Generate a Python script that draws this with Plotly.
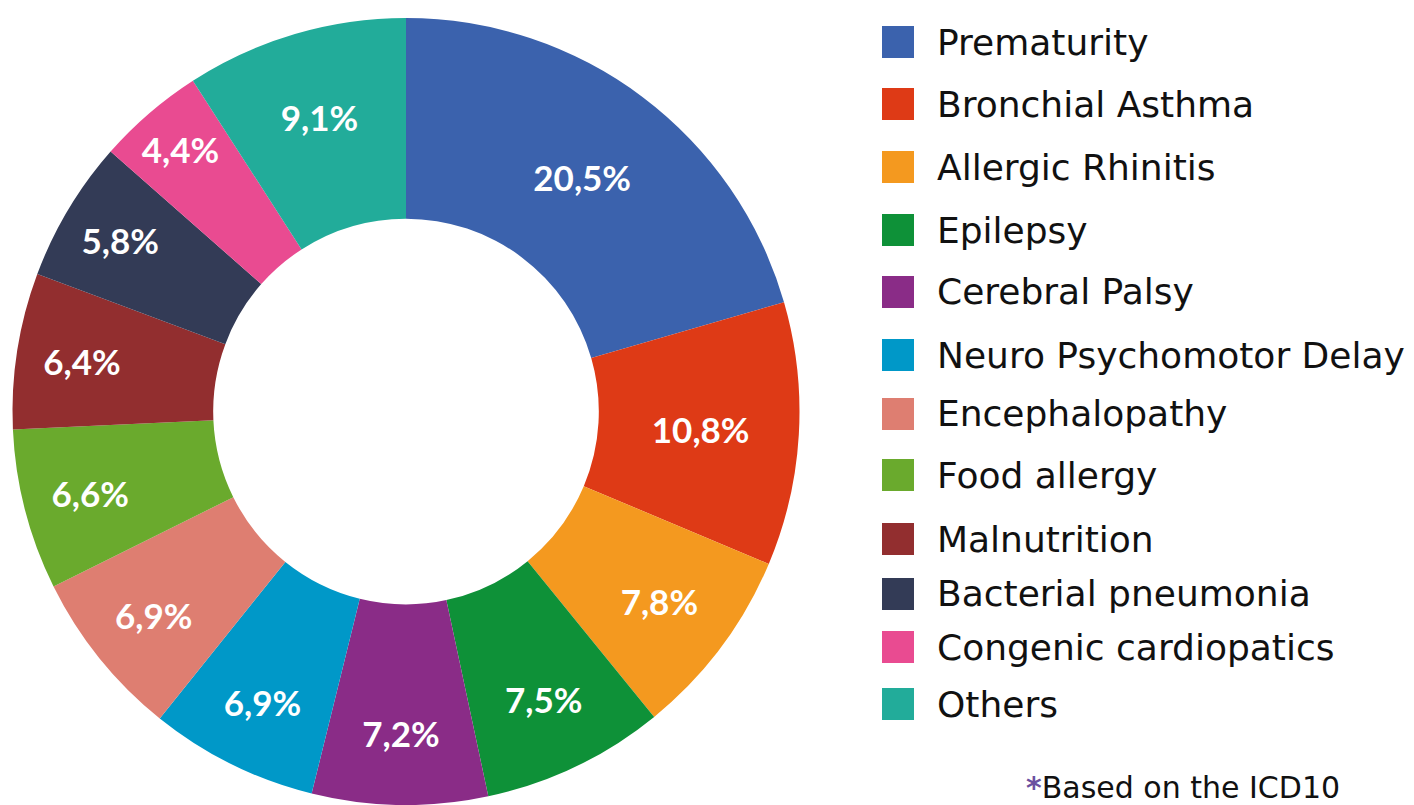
import plotly.graph_objects as go

categories = ["Prematurity", "Bronchial Asthma", "Allergic Rhinitis", "Epilepsy",
              "Cerebral Palsy", "Neuro Psychomotor Delay", "Encephalopathy",
              "Food allergy", "Malnutrition", "Bacterial pneumonia",
              "Congenic cardiopatics", "Others"]
values = [20.5, 10.8, 7.8, 7.5, 7.2, 6.9, 6.9, 6.6, 6.4, 5.8, 4.4, 9.1]
colors = ["#3B62AD", "#DE3A16", "#F4991F", "#0E9138", "#8A2C87", "#0098C8",
          "#DE7E71", "#6AAA2D", "#922E2F", "#333B56", "#E94B91", "#22AC9A"]

W, H = 1414, 805
legend_centers_px = [42, 104, 167, 230, 292, 355, 414, 475, 539, 594, 647, 704]

fig = go.Figure()
fig.add_trace(go.Pie(
    labels=categories, values=values, sort=False, direction="clockwise",
    rotation=0, hole=0.49,
    marker=dict(colors=colors, line=dict(width=0)),
    texttemplate="%{value:.1f}%", textposition="inside",
    insidetextorientation="horizontal",
    textfont=dict(family="Lato", size=35, color="white", weight="bold"),
    domain=dict(x=[12 / W, 800 / W], y=[0, (H - 18) / H]),
    showlegend=False, hoverinfo="label+value",
))

shapes = []
annotations = []
for cat, col, cy in zip(categories, colors, legend_centers_px):
    shapes.append(dict(type="rect", xref="paper", yref="paper",
                       x0=882 / W, x1=914 / W,
                       y0=(H - cy - 16) / H, y1=(H - cy + 16) / H,
                       fillcolor=col, line=dict(width=0)))
    annotations.append(dict(text=cat, xref="paper", yref="paper",
                            x=935 / W, y=(H - cy) / H, xanchor="left",
                            yanchor="middle", showarrow=False,
                            font=dict(family="DejaVu Sans", size=36, color="#111111")))

annotations.append(dict(
    text="<span style='color:#6A4FA0'><b>*</b></span>Based on the ICD10",
    xref="paper", yref="paper", x=1024 / W, y=(H - 787) / H,
    xanchor="left", yanchor="middle", showarrow=False,
    font=dict(family="DejaVu Sans", size=30, color="#111111")))

fig.update_layout(
    width=W, height=H, margin=dict(l=0, r=0, t=0, b=0),
    paper_bgcolor="white", plot_bgcolor="white",
    separators=",.", shapes=shapes, annotations=annotations,
)

fig.write_html("out.html", config={"displayModeBar": False},
               post_script="document.body.style.margin='0';document.body.style.overflow='hidden';")
